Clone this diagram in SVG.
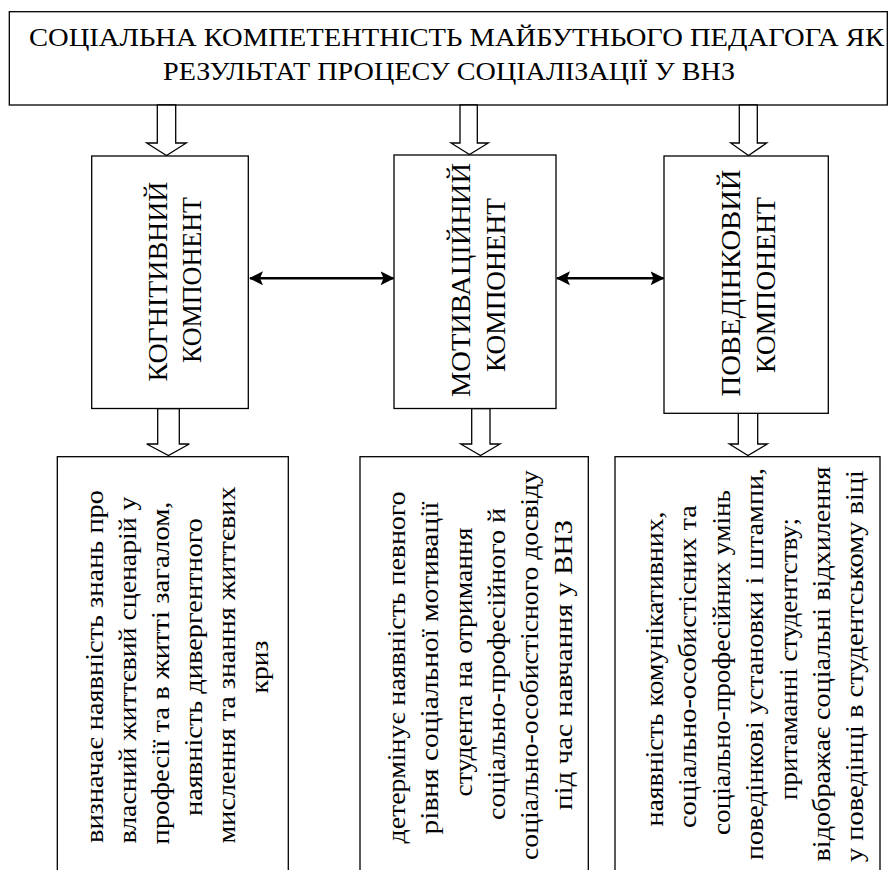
<svg xmlns="http://www.w3.org/2000/svg" width="893" height="870" viewBox="0 0 893 870" font-family="'Liberation Serif', 'Times New Roman', serif">
<style>
.box{fill:#fff;stroke:#000;stroke-width:1.3}
.blk{fill:#fff;stroke:#000;stroke-width:1.3;stroke-linejoin:miter}
text{font-family:'Liberation Serif','Times New Roman',serif;fill:#000}
.title{font-size:25px}
.comp{font-size:27px;text-anchor:middle}
.desc{font-size:25px;text-anchor:middle}
.conn{stroke:#000;stroke-width:2.6;fill:none}
</style>
<defs>
<marker id="ah" viewBox="0 0 14 14" refX="13" refY="7" markerWidth="14" markerHeight="14" markerUnits="userSpaceOnUse" orient="auto-start-reverse">
<path d="M0,0 L14,7 L0,14 L3,7 Z" fill="#000"/>
</marker>
</defs>
<rect width="893" height="870" fill="#fff"/>

<g id="title">
<rect class="box" x="9.3" y="11.7" width="878" height="93.3"/>
<text class="title" x="29" y="46" textLength="855" lengthAdjust="spacingAndGlyphs">СОЦІАЛЬНА КОМПЕТЕНТНІСТЬ МАЙБУТНЬОГО ПЕДАГОГА ЯК</text>
<text class="title" x="449" y="80" text-anchor="middle" textLength="572" lengthAdjust="spacingAndGlyphs">РЕЗУЛЬТАТ ПРОЦЕСУ СОЦІАЛІЗАЦІЇ У ВНЗ</text>
</g>

<g id="connectors">
<polygon class="blk" points="157.3,105 175.7,105 175.7,143 186.3,143 166.5,155.5 146.7,143 157.3,143"/>
<polygon class="blk" points="460,105 477.3,105 477.3,143 488.3,143 469.5,154.5 451,143 460,143"/>
<polygon class="blk" points="739.3,105 757.3,105 757.3,143 766.7,143 748.5,155.5 730.7,143 739.3,143"/>
<polygon class="blk" points="157.7,408.5 179.3,408.5 179.3,444 189.3,444 168.5,455.5 146.7,444 157.7,444"/>
<polygon class="blk" points="471.7,408.5 490,408.5 490,444 500,444 480.5,455.5 460.7,444 471.7,444"/>
<polygon class="blk" points="738.3,413.3 757.7,413.3 757.7,444 767.3,444 748,455.5 729.3,444 738.3,444"/>
<line class="conn" x1="250" y1="278.3" x2="393.5" y2="278.3" marker-start="url(#ah)" marker-end="url(#ah)"/>
<line class="conn" x1="557" y1="278.3" x2="663.5" y2="278.3" marker-start="url(#ah)" marker-end="url(#ah)"/>
</g>

<g id="cognitive">
<rect class="box" x="91.7" y="156" width="156.6" height="252.5"/>
<text class="comp" transform="translate(167,281.5) rotate(-90)" textLength="200" lengthAdjust="spacingAndGlyphs">КОГНІТИВНИЙ</text>
<text class="comp" transform="translate(201,280) rotate(-90)" textLength="166" lengthAdjust="spacingAndGlyphs">КОМПОНЕНТ</text>
</g>

<g id="motivational">
<rect class="box" x="394" y="155" width="162" height="253.5"/>
<text class="comp" transform="translate(470,280) rotate(-90)" textLength="234" lengthAdjust="spacingAndGlyphs">МОТИВАЦІЙНИЙ</text>
<text class="comp" transform="translate(505,285) rotate(-90)" textLength="174" lengthAdjust="spacingAndGlyphs">КОМПОНЕНТ</text>
</g>

<g id="behavioral">
<rect class="box" x="664" y="156" width="164.3" height="257.3"/>
<text class="comp" transform="translate(740,283) rotate(-90)" textLength="227" lengthAdjust="spacingAndGlyphs">ПОВЕДІНКОВИЙ</text>
<text class="comp" transform="translate(775,285) rotate(-90)" textLength="176" lengthAdjust="spacingAndGlyphs">КОМПОНЕНТ</text>
</g>

<g id="cognitive-desc">
<rect class="box" x="57.3" y="456.7" width="231" height="430"/>
<text class="desc" transform="translate(103,666.5) rotate(-90)" textLength="353" lengthAdjust="spacingAndGlyphs">визначає наявність знань про</text>
<text class="desc" transform="translate(136,670) rotate(-90)" textLength="347" lengthAdjust="spacingAndGlyphs">власний життєвий сценарій у</text>
<text class="desc" transform="translate(169,673) rotate(-90)" textLength="343" lengthAdjust="spacingAndGlyphs">професії та в житті загалом,</text>
<text class="desc" transform="translate(202,667) rotate(-90)" textLength="298" lengthAdjust="spacingAndGlyphs">наявність дивергентного</text>
<text class="desc" transform="translate(235,665) rotate(-90)" textLength="357" lengthAdjust="spacingAndGlyphs">мислення та знання життєвих</text>
<text class="desc" transform="translate(268,667) rotate(-90)" textLength="53" lengthAdjust="spacingAndGlyphs">криз</text>
</g>

<g id="motivational-desc">
<rect class="box" x="360" y="456.7" width="228.3" height="430"/>
<text class="desc" transform="translate(405,667.5) rotate(-90)" textLength="352" lengthAdjust="spacingAndGlyphs">детермінує наявність певного</text>
<text class="desc" transform="translate(438,668) rotate(-90)" textLength="333" lengthAdjust="spacingAndGlyphs">рівня соціальної мотивації</text>
<text class="desc" transform="translate(472,662) rotate(-90)" textLength="269" lengthAdjust="spacingAndGlyphs">студента на отримання</text>
<text class="desc" transform="translate(505,664) rotate(-90)" textLength="312" lengthAdjust="spacingAndGlyphs">соціально-професійного й</text>
<text class="desc" transform="translate(538,665) rotate(-90)" textLength="390" lengthAdjust="spacingAndGlyphs">соціально-особистісного досвіду</text>
<text class="desc" transform="translate(572,665) rotate(-90)" textLength="290" lengthAdjust="spacingAndGlyphs">під час навчання у ВНЗ</text>
</g>

<g id="behavioral-desc">
<rect class="box" x="615" y="456.7" width="265" height="430"/>
<text class="desc" transform="translate(663,669) rotate(-90)" textLength="315" lengthAdjust="spacingAndGlyphs">наявність комунікативних,</text>
<text class="desc" transform="translate(696,666.5) rotate(-90)" textLength="323" lengthAdjust="spacingAndGlyphs">соціально-особистісних та</text>
<text class="desc" transform="translate(730,662.5) rotate(-90)" textLength="345" lengthAdjust="spacingAndGlyphs">соціально-професійних умінь</text>
<text class="desc" transform="translate(763,664) rotate(-90)" textLength="392" lengthAdjust="spacingAndGlyphs">поведінкові установки і штампи,</text>
<text class="desc" transform="translate(797,659) rotate(-90)" textLength="282" lengthAdjust="spacingAndGlyphs">притаманні студентству;</text>
<text class="desc" transform="translate(830,664) rotate(-90)" textLength="395" lengthAdjust="spacingAndGlyphs">відображає соціальні відхилення</text>
<text class="desc" transform="translate(863,666) rotate(-90)" textLength="392" lengthAdjust="spacingAndGlyphs">у поведінці в студентському віці</text>
</g>
</svg>
